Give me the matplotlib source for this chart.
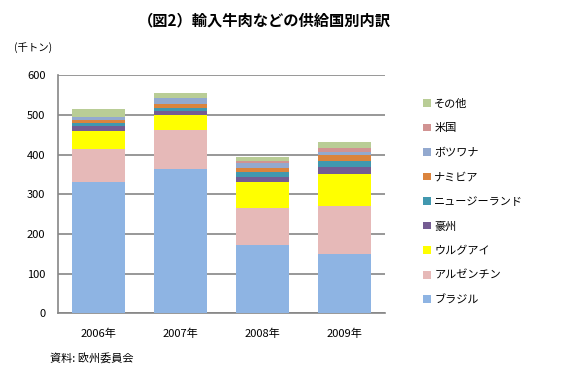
import numpy as np
import matplotlib
matplotlib.use("Agg")
import matplotlib.pyplot as plt

plt.rcParams['font.family'] = ['Noto Sans CJK JP', 'DejaVu Sans']

years = ['2006年', '2007年', '2008年', '2009年']
countries = ['ブラジル', 'アルゼンチン', 'ウルグアイ', '豪州', 'ニュージーランド',
             'ナミビア', 'ボツワナ', '米国', 'その他']
brazil = [331, 364, 172, 150]
argentina = [83, 98, 93, 121]
uruguay = [45, 39, 66, 81]
australia = [13, 9, 12, 18]
new_zealand = [8, 8, 13, 15]
namibia = [8, 10, 11, 13]
botswana = [8, 14, 11, 9]
usa = [0, 1, 6, 11]
others = [18, 13, 10, 15]
colors = ['#8EB4E3', '#E6B9B8', '#FFFF00', '#755C93', '#4198AF',
          '#DB843D', '#93A9CF', '#D19392', '#B9CD96']

series = [brazil, argentina, uruguay, australia, new_zealand,
          namibia, botswana, usa, others]

fig = plt.figure(figsize=(5.68, 3.71), dpi=100)
ax = fig.add_axes([0.102, 0.1555, 0.576, 0.6415])

x = np.arange(len(years))
bottom = np.zeros(len(years))
handles = []
for name, vals, c in zip(countries, series, colors):
    b = ax.bar(x, vals, 0.65, bottom=bottom, color=c, label=name, zorder=3)
    handles.append(b)
    bottom += np.array(vals)

ax.set_xlim(-0.5, 3.5)
ax.set_ylim(0, 600)
ax.set_yticks(range(0, 601, 100))
ax.set_xticks(x)
ax.set_xticklabels(years)
ax.grid(axis='y', color='#868686', linewidth=1.2, zorder=0)
ax.set_axisbelow(True)
for s in ['top', 'right']:
    ax.spines[s].set_visible(False)
for s in ['left', 'bottom']:
    ax.spines[s].set_color('#868686')
    ax.spines[s].set_linewidth(1.2)
ax.tick_params(axis='both', length=0, labelsize=8)
ax.tick_params(axis='y', pad=9)
ax.tick_params(axis='x', pad=11)

fig.text(0.465, 0.945, '（図2）輸入牛肉などの供給国別内訳', ha='center', va='center',
         fontsize=11, fontweight='bold')
fig.text(0.025, 0.873, '(千トン)', ha='left', va='center', fontsize=7.5)
fig.text(0.088, 0.035, '資料: 欧州委員会', ha='left', va='center', fontsize=8)

ax.legend(handles[::-1], countries[::-1], loc='center left',
          bbox_to_anchor=(0.745, 0.4555), bbox_transform=fig.transFigure,
          frameon=False, fontsize=8, handlelength=0.7, handleheight=0.7,
          handletextpad=0.3, labelspacing=1.3, borderpad=0, borderaxespad=0)

fig.savefig('out.png', dpi=100)
